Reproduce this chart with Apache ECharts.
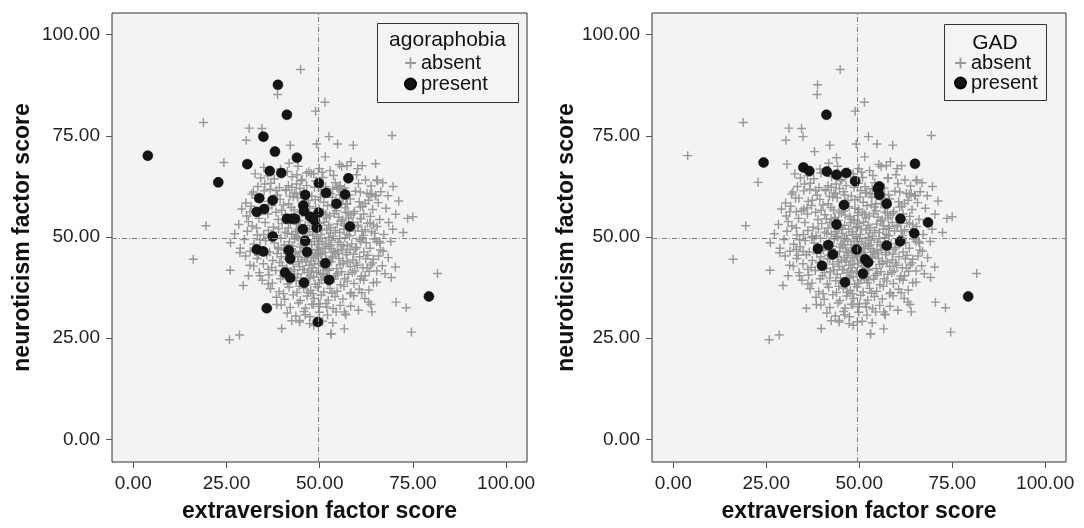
<!DOCTYPE html>
<html>
<head>
<meta charset="utf-8">
<script src="https://cdn.jsdelivr.net/npm/echarts@6/dist/echarts.min.js"></script>
<style>html,body{margin:0;padding:0;background:#fff}#c{width:1084px;height:528px}</style>
</head>
<body>
<div id="c"></div>
<script>
// ---------------- DATA (extraversion, neuroticism) ----------------
const tickValues = [0, 25, 50, 75, 100];
const xTitle = 'extraversion factor score';
const yTitle = 'neuroticism factor score';
const legendTitles = ['agoraphobia', 'GAD'];
const groupNames = ['absent', 'present'];

// persons with neither agoraphobia nor GAD
const neither = [
 [44.9,91.4],[38.7,85.2],[51.4,83.3],[48.9,81.1],[18.8,78.3],[31.1,76.9],[34.5,76.8],[30.3,73.9],[52.5,74.8],[42.1,72.7],
 [49.2,73.0],[54.8,73.0],[59.0,72.7],[51.5,69.8],[32.7,65.6],[55.9,67.4],[57.3,67.6],[58.4,68.6],[61.4,67.6],[49.9,66.9],
 [47.7,65.7],[65.3,64.1],[19.5,52.8],[41.6,62.7],[42.5,62.3],[41.0,61.5],[35.3,63.1],[36.7,61.8],[32.2,61.1],[38.3,61.5],
 [43.7,60.7],[54.6,62.3],[55.5,62.7],[60.9,61.1],[64.0,60.7],[64.9,60.3],[60.9,57.4],[62.2,58.3],[59.1,55.8],[63.5,53.4],
 [64.4,53.0],[61.3,51.4],[62.2,51.8],[31.3,56.2],[30.9,53.8],[33.1,52.2],[34.0,49.3],[28.6,46.1],[65.3,48.9],[16.1,44.5],
 [26.0,41.8],[31.3,43.0],[30.9,40.4],[29.5,38.0],[34.0,40.4],[36.2,38.4],[38.5,33.3],[40.3,36.0],[42.5,29.3],[44.6,29.0],
 [39.8,27.4],[28.5,25.8],[25.8,24.6],[46.1,30.8],[48.3,33.3],[50.1,33.5],[51.9,32.7],[53.1,26.1],[56.6,27.3],[56.6,31.5],
 [57.0,30.8],[60.4,31.9],[63.1,33.9],[63.7,33.3],[64.0,31.5],[61.3,36.2],[58.2,36.0],[64.4,44.5],[64.2,43.6],[62.7,42.4],
 [65.3,41.6],[65.3,38.8],[66.2,48.5],[60.9,39.6],[62.2,40.4],[69.4,75.1],[65.5,63.9],[69.7,62.5],[63.5,60.5],[65.1,60.1],
 [69.6,51.9],[73.6,54.6],[75.0,55.0],[66.0,48.9],[67.0,46.5],[70.3,42.6],[81.6,41.0],[69.2,40.0],[70.5,33.9],[73.2,32.5],
 [74.6,26.5],[53.0,26.0],[48.4,28.2],
 [39.5,66.8],[44.2,67.5],[47.1,66.1],[52.8,66.4],[55.3,67.9],[41.8,68.2],[60.2,66.9],[36.1,65.1],
 [37.8,64.4],[42.6,64.9],[45.3,64.2],[48.4,65.6],[50.9,64.7],[53.7,65.2],[57.8,64.6],[59.9,65.4],[62.3,64.1],[34.2,64.6],
 [33.4,62.5],[36.9,63.3],[39.2,62.2],[43.8,63.1],[46.5,62.7],[49.1,63.8],[51.6,62.4],[54.2,63.4],[56.7,62.1],[60.4,63.2],[63.8,62.6],[66.9,63.4],[44.7,62.0],
 [31.8,60.6],[35.1,61.4],[38.7,60.3],[40.9,61.7],[43.2,60.9],[45.8,61.2],[47.9,60.1],[50.4,61.5],[52.9,60.7],[55.6,61.8],[57.9,60.4],[59.6,61.3],[62.7,60.8],[66.4,61.2],[68.3,60.2],[48.6,62.3],[53.5,61.9],
 [30.2,58.4],[32.9,59.6],[36.3,58.8],[39.4,59.3],[41.7,58.2],[44.1,59.7],[46.4,58.5],[48.8,59.2],[51.1,58.6],[53.4,59.8],[55.9,58.3],[58.2,59.4],[60.6,58.7],[63.1,59.1],[65.7,58.5],[71.2,58.9],[42.9,59.9],[50.2,59.9],[57.1,58.1],
 [29.1,56.9],[31.6,57.6],[34.5,56.4],[37.2,57.8],[39.8,56.6],[42.4,57.3],[44.6,56.2],[47.3,57.5],[49.9,56.8],[52.1,57.7],[54.5,56.5],[56.8,57.2],[59.3,56.3],[61.5,57.6],[64.2,56.8],[67.8,57.1],[45.9,57.9],[50.9,56.1],[53.3,58.0],[38.3,56.1],
 [30.4,55.2],[33.7,54.6],[36.1,55.7],[38.9,54.3],[40.8,55.5],[43.5,54.8],[45.2,55.9],[47.8,54.4],[49.6,55.3],[51.8,54.7],[53.9,55.8],[56.2,54.2],[58.4,55.4],[60.9,54.6],[63.6,55.1],[66.1,54.3],[70.4,55.6],[44.4,54.1],[52.7,55.2],[55.1,54.9],[57.6,55.9],[61.8,55.7],
 [28.3,53.1],[31.9,52.7],[35.4,53.6],[37.6,52.4],[39.9,53.3],[41.6,52.2],[43.9,53.8],[46.1,52.9],[47.7,53.5],[49.4,52.6],[51.2,53.7],[52.9,52.3],[54.7,53.2],[56.6,52.8],[58.9,53.6],[60.3,52.5],[62.8,53.4],[65.4,52.6],[45.3,52.1],[50.6,52.0],[55.8,53.9],[48.5,54.0],
 [27.2,50.8],[30.6,51.4],[33.3,50.5],[36.2,51.6],[38.4,50.3],[40.7,51.2],[42.5,50.7],[44.2,51.8],[46.6,50.4],[48.1,51.3],[50.3,50.6],[51.9,51.7],[53.6,50.2],[55.4,51.1],[57.3,50.7],[59.5,51.5],[61.7,50.4],[63.9,51.3],[67.2,50.6],[72.4,51.1],[45.4,50.9],[49.2,50.1],[52.8,51.0],[56.5,51.9],[43.6,51.3],
 [26.1,48.6],[29.8,49.4],[32.4,48.2],[35.5,49.1],[37.9,48.5],[39.6,49.7],[41.9,48.8],[43.3,49.5],[45.1,48.3],[46.9,49.3],[48.6,48.9],[50.1,49.6],[51.7,48.4],[53.2,49.2],[54.9,48.7],[56.8,49.8],[58.6,48.3],[60.8,49.3],[62.5,48.6],[64.7,49.5],[69.1,48.9],[44.2,49.9],[47.8,48.1],[52.4,49.9],[55.7,48.1],[49.5,48.2],
 [28.7,47.2],[31.4,46.5],[34.1,47.6],[36.6,46.3],[38.9,47.4],[40.4,46.8],[42.8,47.7],[44.7,46.4],[46.3,47.3],[47.9,46.7],[49.8,47.5],[51.5,46.2],[53.1,47.1],[54.8,46.6],[56.4,47.8],[58.1,46.9],[59.9,47.4],[61.8,46.3],[63.5,47.2],[66.3,46.8],[45.6,47.9],[50.7,46.1],[52.5,47.7],[57.3,46.2],[43.5,46.1],[48.8,46.0],
 [30.1,45.3],[33.2,44.7],[35.8,45.6],[37.4,44.2],[39.7,45.1],[41.5,44.6],[43.4,45.8],[45.2,44.3],[46.8,45.4],[48.3,44.8],[50.2,45.7],[51.8,44.4],[53.5,45.2],[55.2,44.7],[57.1,45.6],[58.9,44.3],[60.7,45.1],[62.4,44.6],[65.8,45.3],[68.4,44.9],[44.1,45.1],[47.7,44.1],[49.6,46.0],[54.3,46.0],[56.2,44.1],
 [32.3,42.8],[34.9,43.4],[37.1,42.5],[39.3,43.7],[41.2,42.3],[42.9,43.3],[44.6,42.7],[46.4,43.8],[48.1,42.4],[49.7,43.5],[51.3,42.6],[53.1,43.9],[54.6,42.2],[56.3,43.4],[58.2,42.7],[59.8,43.6],[61.6,42.4],[63.7,43.1],[66.8,42.9],[45.5,42.0],[47.2,43.0],[52.2,42.1],[55.5,43.2],[50.6,44.0],
 [33.8,41.2],[36.4,40.6],[38.2,41.7],[40.1,40.4],[42.3,41.4],[44.1,40.8],[45.9,41.9],[47.5,40.3],[49.2,41.3],[50.9,40.7],[52.6,41.8],[54.3,40.5],[55.9,41.4],[57.7,40.8],[59.4,41.6],[61.2,40.3],[63.3,41.5],[67.5,40.9],[46.7,41.2],[51.7,41.9],[48.4,40.1],
 [34.6,39.3],[37.3,38.6],[39.5,39.7],[41.4,38.4],[43.7,39.2],[45.4,38.8],[47.1,39.8],[48.8,38.3],[50.5,39.4],[52.2,38.7],[53.9,39.6],[55.6,38.2],[57.4,39.1],[59.2,38.5],[61.8,39.3],[64.4,38.7],[46.3,38.1],[51.4,39.9],
 [36.8,37.2],[39.1,36.5],[41.8,37.6],[43.9,36.3],[45.7,37.4],[47.6,36.8],[49.4,37.7],[51.1,36.4],[52.8,37.3],[54.7,36.6],[56.5,37.8],[58.4,36.2],[60.6,37.1],[63.2,36.9],[48.2,36.0],
 [38.4,35.1],[40.6,34.6],[42.9,35.7],[44.8,34.3],[46.6,35.4],[48.5,34.8],[50.4,35.6],[52.3,34.4],[54.1,35.3],[56.2,34.7],[59.1,35.5],[62.1,34.8],
 [39.7,33.2],[42.1,32.6],[44.3,33.7],[46.2,32.4],[47.9,33.4],[49.8,32.8],[51.7,33.6],[53.6,32.3],[55.5,33.1],[58.3,32.9],
 [41.3,31.2],[43.6,30.5],[45.8,31.6],[47.4,30.3],[49.9,31.4],[52.1,30.7],[54.4,31.5],[56.9,30.9],
 [44.6,29.4],[47.3,28.6],[50.8,29.2],[53.5,28.8],
 // dense centre
 [40.3,57.9],[43.1,56.7],[46.2,55.4],[48.9,57.1],[51.5,55.6],[54.1,57.4],[57.8,54.7],[42.1,53.6],[44.8,52.6],[47.2,51.9],
 [50.0,53.4],[52.4,52.9],[54.2,51.6],[57.9,52.1],[41.3,50.9],[43.9,50.2],[46.0,49.6],[48.3,50.6],[50.7,48.9],[53.0,48.0],
 [55.3,49.6],[58.0,50.3],[40.5,48.0],[42.4,47.1],[44.9,47.5],[47.1,46.1],[49.2,45.3],[51.2,47.2],[53.8,46.4],[56.0,46.9],
 [59.1,45.8],[41.8,45.5],[44.3,43.9],[46.0,44.9],[48.7,43.3],[50.8,42.9],[53.0,44.8],[55.0,45.9],[57.5,43.8],[43.2,41.9],
 [45.0,39.9],[47.8,41.6],[50.2,41.0],[52.0,40.1],[54.8,41.0],[56.7,39.7],[44.5,37.8],[46.9,36.3],[49.9,38.6],[53.3,36.1],
 [39.0,52.0],[37.2,49.9],[38.6,45.9],[60.2,52.9],[59.6,47.0],[58.8,41.2],[42.0,60.1],[47.0,59.0],[52.0,61.0],[56.3,59.6],
 [36.0,57.2],[35.0,50.6],[33.6,45.5],[36.2,42.0],[61.4,49.8],[62.9,45.5],[60.1,43.0],[57.0,56.1],[45.0,63.9],[50.6,66.0]
];

// persons with agoraphobia only
const agoraOnly = [
 [22.8,63.5],[30.6,68.0],[38.8,87.6],[34.9,74.8],[38.0,71.1],[43.9,69.6],[39.7,65.8],[49.8,63.3],[57.7,64.5],[51.7,60.9],
 [56.8,60.5],[46.1,60.4],[33.8,59.6],[37.4,59.1],[54.5,58.2],[45.6,57.8],[35.1,56.9],[33.1,56.2],[45.8,56.4],[49.7,56.0],
 [47.5,55.0],[41.2,54.5],[42.5,54.5],[43.4,54.5],[48.6,54.2],[58.1,52.6],[49.2,52.3],[45.5,51.9],[37.4,50.1],[46.1,49.0],
 [33.1,46.9],[34.9,46.4],[41.7,46.7],[46.6,46.3],[42.1,44.6],[51.5,43.5],[40.7,41.2],[42.1,39.9],[52.5,39.4],[45.8,38.7],
 [35.8,32.4],[49.5,29.0],[3.9,70.1]
];

// persons with GAD only
const gadOnly = [
 [24.3,68.4],[35.0,67.2],[41.3,66.2],[43.9,65.4],[46.5,65.8],[48.9,63.8],[65.0,68.1],[55.4,62.5],[55.0,61.9],[55.4,60.4],
 [57.4,58.2],[45.9,57.9],[61.1,54.5],[68.5,53.6],[43.9,53.1],[64.8,50.9],[61.0,48.9],[57.4,47.9],[41.7,48.0],[38.9,47.1],
 [42.9,45.7],[49.3,46.9],[51.6,44.5],[52.4,43.7],[40.0,42.9],[51.0,40.9],[46.2,38.8]
];

// persons with both agoraphobia and GAD
const both = [[41.2,80.2],[79.3,35.3],[36.6,66.3]];

// mean reference lines
const refX = 49.6, refY = 49.8;

// ---------------- CHART ----------------
const FONT = 'Liberation Sans, Arial, sans-serif';
const plusPath = 'path://M4.2,0h1.6v4.2h4.2v1.6h-4.2v4.2h-1.6v-4.2h-4.2v-1.6h4.2z';
const crossColor = '#999999';
const dotColor = '#151515';

const panels = [
  {absent: neither.concat(gadOnly), present: agoraOnly.concat(both)},
  {absent: neither.concat(agoraOnly), present: gadOnly.concat(both)}
];

const grids = [
  {left: 112, top: 13, width: 415, height: 456},
  {left: 652, top: 13, width: 414, height: 456}
];
const yNameGap = [78, 70];

function xAxisOf(i) {
  return {
    type: 'value', gridIndex: i, min: -5.7, max: 105.6,
    axisLine: {show: false, onZero: false}, splitLine: {show: false},
    axisTick: {show: true, inside: false, customValues: tickValues, length: 6, lineStyle: {color: '#555', width: 1}},
    axisLabel: {customValues: tickValues, formatter: v => v.toFixed(2), fontSize: 19, color: '#222', fontFamily: FONT, margin: 12},
    name: xTitle, nameLocation: 'middle', nameGap: 38,
    nameTextStyle: {fontSize: 23, fontWeight: 'bold', color: '#111', fontFamily: FONT}
  };
}
function yAxisOf(i) {
  return {
    type: 'value', gridIndex: i, min: -5.6, max: 105.35,
    axisLine: {show: false, onZero: false}, splitLine: {show: false},
    axisTick: {show: true, inside: false, customValues: tickValues, length: 6, lineStyle: {color: '#555', width: 1}},
    axisLabel: {customValues: tickValues, formatter: v => v.toFixed(2), fontSize: 19, color: '#222', fontFamily: FONT, margin: 12},
    name: yTitle, nameLocation: 'middle', nameGap: yNameGap[i],
    nameTextStyle: {fontSize: 23, fontWeight: 'bold', color: '#111', fontFamily: FONT}
  };
}

const series = [];
panels.forEach((p, i) => {
  series.push({
    name: groupNames[0], type: 'scatter', xAxisIndex: i, yAxisIndex: i,
    data: p.absent, symbol: plusPath, symbolSize: 9, z: 2,
    itemStyle: {color: crossColor, opacity: 1},
    markLine: {
      silent: true, symbol: 'none', animation: false,
      label: {show: false},
      lineStyle: {color: '#808080', width: 1, type: [5, 2, 1, 2]},
      data: [{xAxis: refX}, {yAxis: refY}]
    }
  });
  series.push({
    name: groupNames[1], type: 'scatter', xAxisIndex: i, yAxisIndex: i,
    data: p.present, symbol: 'circle', symbolSize: 10, z: 3,
    itemStyle: {color: dotColor, borderColor: '#000', borderWidth: 0.5, opacity: 1}
  });
});

const legendBoxes = [
  {left: 377, top: 23, width: 141, height: 79, titleX: 447.5, titleY: 40, itemLeft: 404, itemTop: 53, gap: 1},
  {left: 944, top: 24, width: 102, height: 76, titleX: 995, titleY: 43, itemLeft: 954, itemTop: 53, gap: 0}
];

const legends = legendBoxes.map((b, i) => ({
  orient: 'vertical', left: b.itemLeft, top: b.itemTop, padding: 0, z: 30,
  itemWidth: 11, itemHeight: 11, itemGap: b.gap, selectedMode: false,
  textStyle: {fontSize: 20, color: '#111', fontFamily: FONT, lineHeight: 20},
  data: [
    {name: groupNames[0], icon: plusPath, itemStyle: {color: crossColor}},
    {name: groupNames[1], icon: 'circle', itemStyle: {color: dotColor}}
  ]
}));

const graphic = {elements: []};
legendBoxes.forEach((b, i) => {
  graphic.elements.push({
    type: 'rect', left: b.left, top: b.top, z: 5, silent: true,
    shape: {width: b.width, height: b.height},
    style: {fill: '#f4f4f4', stroke: '#333', lineWidth: 1}
  });
  graphic.elements.push({
    type: 'text', x: b.titleX, y: b.titleY, z: 6, silent: true,
    style: {text: legendTitles[i], fontSize: 21, fontFamily: FONT, fill: '#111', align: 'center', verticalAlign: 'middle'}
  });
});

const chart = echarts.init(document.getElementById('c'), null, {renderer: 'canvas'});
chart.setOption({
  animation: false,
  backgroundColor: '#fff',
  grid: grids.map(g => Object.assign({show: true, backgroundColor: '#f3f3f3', borderColor: '#333', borderWidth: 1}, g)),
  xAxis: [xAxisOf(0), xAxisOf(1)],
  yAxis: [yAxisOf(0), yAxisOf(1)],
  legend: legends,
  graphic: graphic,
  series: series
});
</script>
</body>
</html>
